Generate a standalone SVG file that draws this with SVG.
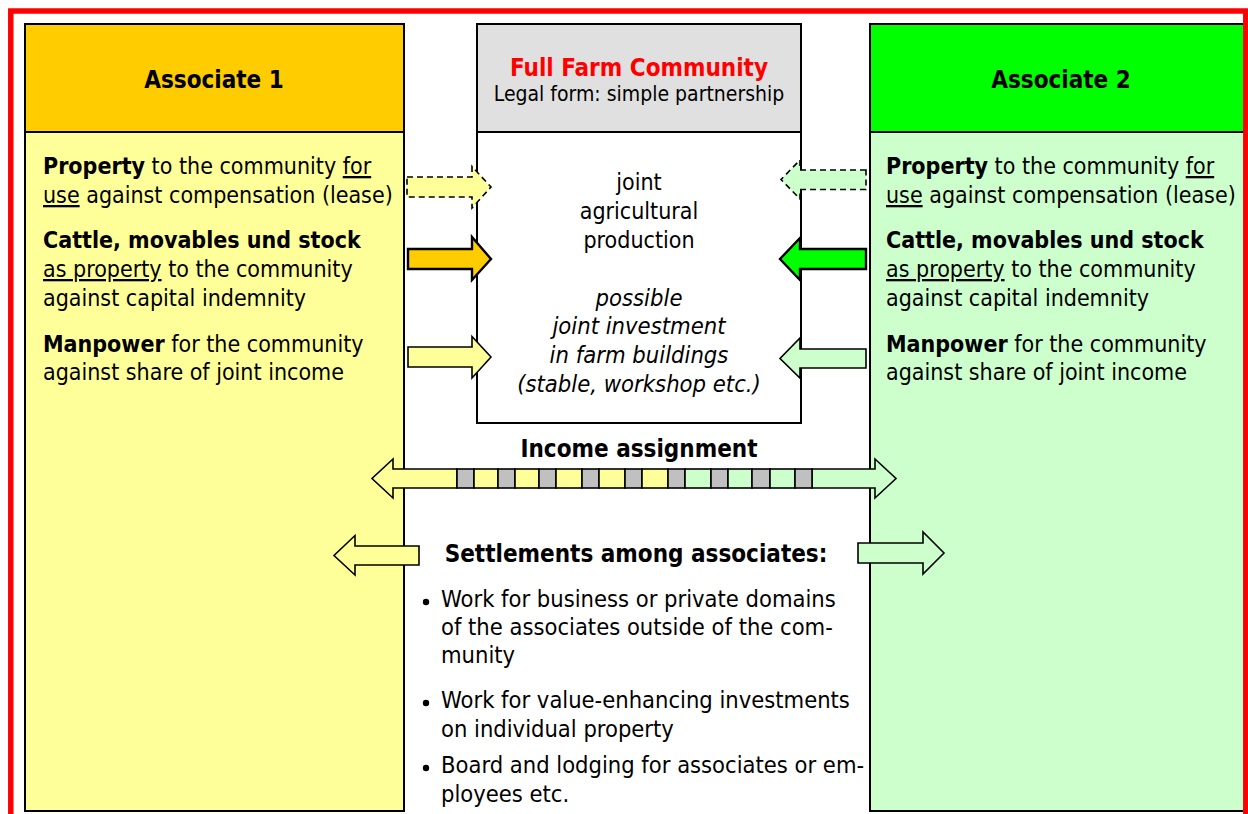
<svg xmlns="http://www.w3.org/2000/svg" width="1248" height="814" viewBox="0 0 1248 814">
  <style>
    text { font-family: "DejaVu Sans Condensed", "DejaVu Sans", sans-serif; font-stretch: condensed; fill: #000; }
    .t { font-size: 23px; }
    .l { font-size: 23.5px; }
    .b { font-weight: bold; }
    .h { font-size: 24px; font-weight: bold; }
    .c { text-anchor: middle; }
    .i { font-style: italic; font-size: 23.6px; }
    .u { text-decoration: underline; }
    .box { stroke: #000; stroke-width: 2; }
    .arr { stroke: #000; stroke-width: 1.6; stroke-linejoin: miter; }
    .arrb { stroke: #000; stroke-width: 2.4; stroke-linejoin: miter; }
    .dash { stroke: #000; stroke-width: 1.6; stroke-dasharray: 6 4; }
  </style>

  <rect width="1248" height="814" fill="#fff"/>

  <!-- Associate 1 -->
  <g id="associate1">
    <rect class="box" x="25" y="24" width="379" height="787" fill="#FFFF99"/>
    <rect class="box" x="25" y="24" width="379" height="108" fill="#FFCC00"/>
    <text class="h c" x="214" y="88" font-size="23.5">Associate 1</text>
    <text class="t" x="43" y="174"><tspan class="b">Property</tspan> to the community <tspan class="u">for</tspan></text>
    <text class="t" x="43" y="203"><tspan class="u">use</tspan> against compensation (lease)</text>
    <text class="t b" x="43" y="248">Cattle, movables und stock</text>
    <text class="t" x="43" y="277"><tspan class="u">as property</tspan> to the community</text>
    <text class="t" x="43" y="306">against capital indemnity</text>
    <text class="t" x="43" y="352"><tspan class="b">Manpower</tspan> for the community</text>
    <text class="t" x="43" y="380">against share of joint income</text>
  </g>

  <!-- Associate 2 -->
  <g id="associate2">
    <rect class="box" x="870" y="24" width="375" height="787" fill="#CCFFCC"/>
    <rect class="box" x="870" y="24" width="375" height="108" fill="#00FF00"/>
    <text class="h c" x="1061" y="88">Associate 2</text>
    <text class="t" x="886" y="174"><tspan class="b">Property</tspan> to the community <tspan class="u">for</tspan></text>
    <text class="t" x="886" y="203"><tspan class="u">use</tspan> against compensation (lease)</text>
    <text class="t b" x="886" y="248">Cattle, movables und stock</text>
    <text class="t" x="886" y="277"><tspan class="u">as property</tspan> to the community</text>
    <text class="t" x="886" y="306">against capital indemnity</text>
    <text class="t" x="886" y="352"><tspan class="b">Manpower</tspan> for the community</text>
    <text class="t" x="886" y="380">against share of joint income</text>
  </g>

  <!-- Full Farm Community -->
  <g id="community">
    <rect class="box" x="477" y="24" width="324" height="399" fill="#fff"/>
    <rect class="box" x="477" y="24" width="324" height="108" fill="#E0E0E0"/>
    <text class="h c" x="639" y="76" style="fill:#FF0000">Full Farm Community</text>
    <text class="c" x="639" y="101" font-size="21">Legal form: simple partnership</text>
    <text class="t c" x="639" y="190">joint</text>
    <text class="t c" x="639" y="219">agricultural</text>
    <text class="t c" x="639" y="248">production</text>
    <text class="c i" x="639" y="306">possible</text>
    <text class="c i" x="639" y="334">joint investment</text>
    <text class="c i" x="639" y="363">in farm buildings</text>
    <text class="c i" x="639" y="392">(stable, workshop etc.)</text>
  </g>

  <!-- Settlements among associates -->
  <g id="settlements">
    <text class="h c" x="639" y="457">Income assignment</text>
    <text class="h c" x="636" y="562">Settlements among associates:</text>
    <circle cx="426" cy="602" r="3.2"/>
    <text class="l" x="441" y="607">Work for business or private domains</text>
    <text class="l" x="441" y="635">of the associates outside of the com-</text>
    <text class="l" x="441" y="663">munity</text>
    <circle cx="426" cy="703" r="3.2"/>
    <text class="l" x="441" y="708">Work for value-enhancing investments</text>
    <text class="l" x="441" y="737">on individual property</text>
    <circle cx="426" cy="768" r="3.2"/>
    <text class="l" x="441" y="773">Board and lodging for associates or em-</text>
    <text class="l" x="441" y="802">ployees etc.</text>
  </g>

  <!-- Connectors -->
  <g id="connectors">
    <!-- contributions of associate 1 -->
    <path class="dash" fill="#FFFF99" d="M407,177 H472 V166.5 L491,187 L472,208 V197 H407 Z"/>
    <path class="arrb" fill="#FFCC00" d="M408,249 H472 V237 L491,259 L472,280 V269 H408 Z"/>
    <path class="arr" fill="#FFFF99" d="M408,347 H472 V336.5 L491,357 L472,378 V367 H408 Z"/>
    <!-- contributions of associate 2 -->
    <path class="dash" fill="#CCFFCC" d="M866,170 H800 V160 L781,179.5 L800,199 V189.5 H866 Z"/>
    <path class="arrb" fill="#00FF00" d="M866,249 H800 V238 L780,259 L800,280 V269 H866 Z"/>
    <path class="arr" fill="#CCFFCC" d="M866,349 H800 V338 L780,358.5 L800,378 V368 H866 Z"/>

    <!-- income assignment double arrow -->
    <path class="arr" fill="#FFFF99" d="M457,469 H393 V459 L372,478.5 L393,498 V488 H457 Z"/>
    <path class="arr" fill="#CCFFCC" d="M812,469 H875 V459 L896,478.5 L875,498 V488 H812 Z"/>
    <g class="arr">
      <rect x="457" y="469" width="17" height="19" fill="#C0C0C0"/>
      <rect x="474" y="469" width="24" height="19" fill="#FFFF99"/>
      <rect x="498" y="469" width="17" height="19" fill="#C0C0C0"/>
      <rect x="515" y="469" width="24" height="19" fill="#FFFF99"/>
      <rect x="539" y="469" width="17" height="19" fill="#C0C0C0"/>
      <rect x="556" y="469" width="26" height="19" fill="#FFFF99"/>
      <rect x="582" y="469" width="17" height="19" fill="#C0C0C0"/>
      <rect x="599" y="469" width="26" height="19" fill="#FFFF99"/>
      <rect x="625" y="469" width="17" height="19" fill="#C0C0C0"/>
      <rect x="642" y="469" width="26" height="19" fill="#FFFF99"/>
      <rect x="668" y="469" width="17" height="19" fill="#C0C0C0"/>
      <rect x="685" y="469" width="26" height="19" fill="#CCFFCC"/>
      <rect x="711" y="469" width="17" height="19" fill="#C0C0C0"/>
      <rect x="728" y="469" width="24" height="19" fill="#CCFFCC"/>
      <rect x="752" y="469" width="18" height="19" fill="#C0C0C0"/>
      <rect x="770" y="469" width="25" height="19" fill="#CCFFCC"/>
      <rect x="795" y="469" width="17" height="19" fill="#C0C0C0"/>
    </g>

    <!-- settlement arrows -->
    <path class="arr" fill="#FFFF99" d="M419,546 H355 V535.5 L334,555.5 L355,575 V565 H419 Z"/>
    <path class="arr" fill="#CCFFCC" d="M858,543 H923 V532 L944,553 L923,574 V563 H858 Z"/>
  </g>

  <!-- outer frame -->
  <rect x="10.8" y="11" width="1235" height="830" fill="none" stroke="#FF0000" stroke-width="5.5"/>
</svg>
